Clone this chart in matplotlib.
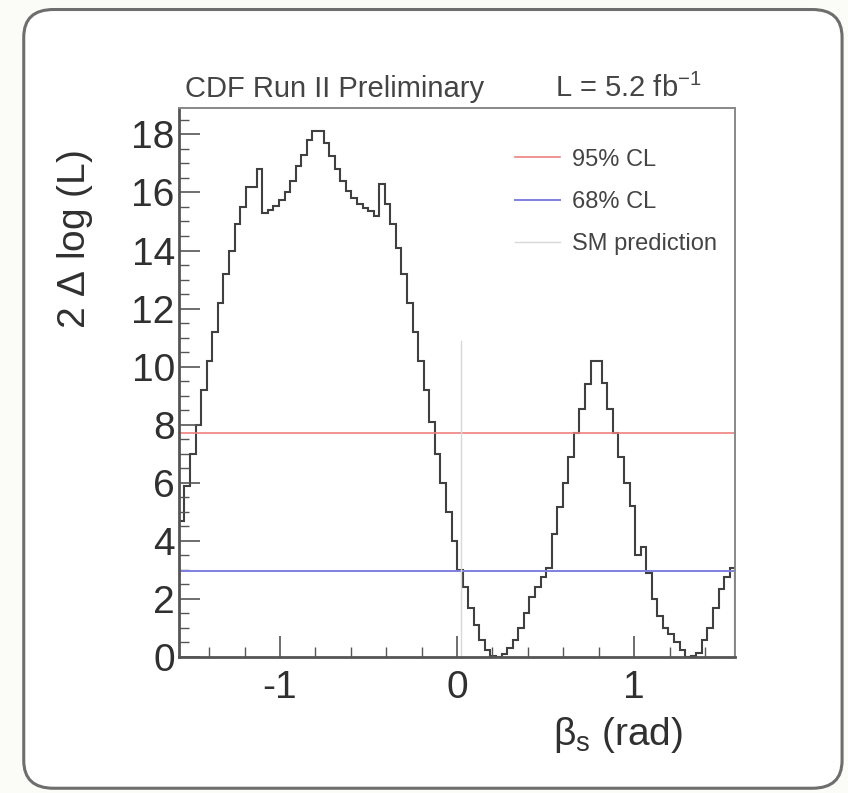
import numpy as np
import matplotlib.pyplot as plt
from matplotlib.patches import FancyBboxPatch
from matplotlib.ticker import MultipleLocator

# 2 delta log(L) profile, 100 bins in beta_s over [-pi/2, pi/2]
nll = [4.7, 5.9, 7.0, 8.0, 9.2, 10.2, 11.2, 12.2, 13.2, 14.0,
       14.9, 15.5, 16.2, 16.2, 16.8, 15.3, 15.4, 15.55, 15.75, 16.0,
       16.4, 16.9, 17.3, 17.8, 18.1, 18.1, 17.7, 17.25, 16.8, 16.4,
       16.05, 15.8, 15.6, 15.45, 15.35, 15.2, 16.3, 15.6, 14.9, 14.1,
       13.2, 12.2, 11.2, 10.2, 9.2, 8.1, 7.0, 6.0, 5.0, 4.0,
       3.0, 2.4, 1.7, 1.1, 0.6, 0.25, 0.05, 0.0, 0.1, 0.3,
       0.6, 1.0, 1.5, 2.05, 2.4, 2.75, 3.05, 4.25, 5.15, 6.0,
       6.9, 7.7, 8.55, 9.4, 10.2, 10.2, 9.45, 8.55, 7.7, 6.9,
       6.0, 5.2, 3.5, 3.8, 2.9, 2.0, 1.4, 1.0, 0.8, 0.5,
       0.25, 0.0, 0.05, 0.15, 0.6, 1.0, 1.7, 2.35, 2.75, 3.05]
edges = np.linspace(-np.pi / 2, np.pi / 2, len(nll) + 1)

cl95 = 7.7
cl68 = 2.95
sm_beta = 0.02
sm_top = 10.9

plt.rcParams['font.family'] = ['Liberation Sans', 'DejaVu Sans']

fig = plt.figure(figsize=(8.48, 7.93), dpi=100)
fig.patch.set_facecolor('#fbfbf8')
frame = FancyBboxPatch((0.028, 0.006), 0.965, 0.982,
                       boxstyle='round,pad=0,rounding_size=0.035',
                       transform=fig.transFigure, facecolor='white',
                       edgecolor='#6e6e6e', linewidth=2.2, zorder=-5)
fig.patches.append(frame)

ax = fig.add_axes([0.211, 0.1715, 0.656, 0.692])
ax.set_zorder(2)
ax.patch.set_alpha(0)

ax.axhline(cl95, color='#f08080', lw=1.2, label='95% CL')
ax.axhline(cl68, color='#7f7fe0', lw=1.4, label='68% CL')
ax.plot([sm_beta, sm_beta], [0, sm_top], color='#d8d8d8', lw=1.0, label='SM prediction')
ax.stairs(nll, edges, color='#404040', lw=1.5)

ax.set_xlim(-np.pi / 2, np.pi / 2)
ax.set_ylim(0, 18.9)

ax.xaxis.set_major_locator(MultipleLocator(1))
ax.xaxis.set_minor_locator(MultipleLocator(0.2))
ax.yaxis.set_major_locator(MultipleLocator(2))
ax.yaxis.set_minor_locator(MultipleLocator(0.5))
ax.tick_params(which='both', direction='in', colors='#555555', labelcolor='#303030',
               top=False, right=False)
ax.tick_params(which='major', length=15, width=1.2, labelsize=28)
ax.tick_params(which='minor', length=7, width=1.0)
ax.tick_params(axis='x', pad=9)
ax.tick_params(axis='y', pad=3)
ax.set_xticks([-1, 0, 1])
ax.set_xticklabels(['-1', '0', '1'])

for s in ['left', 'bottom']:
    ax.spines[s].set_color('#555555')
    ax.spines[s].set_linewidth(2.0)
for s in ['top', 'right']:
    ax.spines[s].set_color('#888888')
    ax.spines[s].set_linewidth(1.4)

ax.set_ylabel(r'2 $\mathregular{\Delta}$ log (L)', fontsize=28, color='#303030')
ax.yaxis.set_label_coords(-0.187, 0.76)
ax.set_xlabel(r'$\mathregular{\beta_s}$ (rad)', fontsize=28, color='#303030')
ax.xaxis.set_label_coords(0.79, -0.142)
ax.xaxis.label.set_va('center')
ax.yaxis.label.set_va('center')

fig.text(0.218, 0.878, 'CDF Run II Preliminary', fontsize=21, color='#444444')
fig.text(0.655, 0.878, r'L = 5.2 fb$\mathregular{^{-1}}$', fontsize=21, color='#444444')

ax.legend(loc='upper right', bbox_to_anchor=(1.005, 0.965), frameon=False, fontsize=17,
          labelcolor='#444444', handlelength=1.9, labelspacing=0.85, handletextpad=0.5)

fig.savefig('out.png', dpi=100, facecolor=fig.get_facecolor())
